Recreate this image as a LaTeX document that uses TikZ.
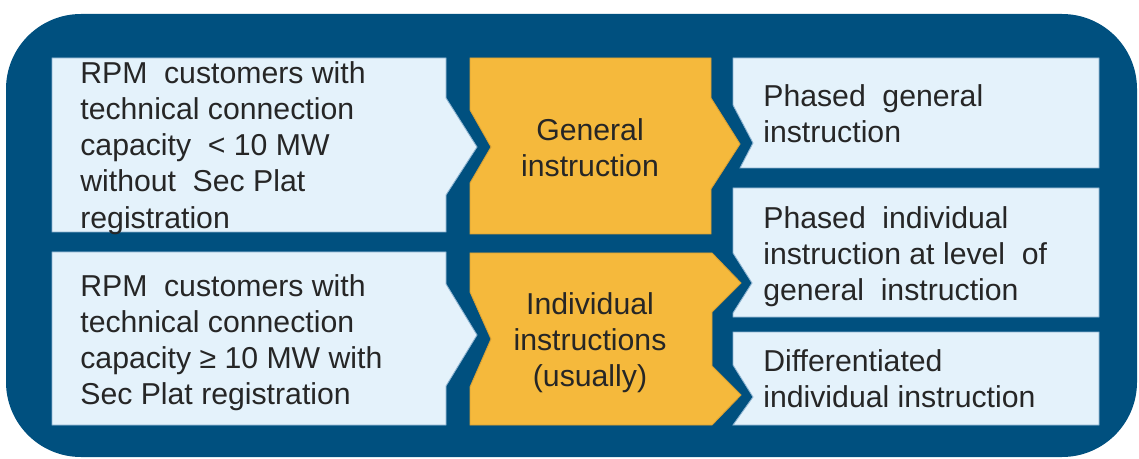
\documentclass[tikz,border=0pt]{standalone}
\usepackage{fontspec}
\setmainfont{Liberation Sans}
\usetikzlibrary{positioning}
\definecolor{fundo}{HTML}{00507F}
\definecolor{claro}{HTML}{E4F2FB}
\definecolor{bordaclara}{HTML}{8DB3D0}
\definecolor{laranja}{HTML}{F5B93C}
\definecolor{bordalaranja}{HTML}{D9A033}
\definecolor{escrita}{HTML}{262626}
% espaco largo entre palavras
\newcommand{\esp}{\hspace{0.55em}}

\begin{document}
\begin{tikzpicture}[
x=0.02cm, y=-0.02cm,
caixa/.style={
fill=claro,
draw=bordaclara,
line width=0.5pt
},
bloco/.style={
fill=laranja,
draw=bordalaranja,
line width=0.5pt
},
rotulo/.style={
text=escrita,
align=left,
inner sep=0pt,
font=\fontsize{17.2}{20.6}\selectfont
},
meio/.style={rotulo, align=center}
]

\useasboundingbox (0,0) rectangle (1139,459);

% moldura azul
\fill[fundo, rounded corners=1.5cm] (6,14) rectangle (1137,457);

% grupos de clientes
\draw[caixa] (52,58) -- (446,58) -- (446,98) -- (477,147) -- (446,195) -- (446,232) -- (52,232) -- cycle;
\draw[caixa] (52,252) -- (446,252) -- (446,284) -- (477,335) -- (446,386) -- (446,425) -- (52,425) -- cycle;

% tipo de instrucao
\draw[bloco] (470,58) -- (711,58) -- (711,98) -- (740,144) -- (711,189) -- (711,234) -- (470,234) -- (470,183) -- (491,147) -- (470,110) -- cycle;
\draw[bloco] (470,253) -- (712,253) -- (741,283) -- (712,312) -- (712,366) -- (741,395) -- (712,425) -- (470,425) -- (470,387) -- (491,339) -- (470,292) -- cycle;

% resultados
\draw[caixa] (733,58) -- (1099,58) -- (1099,168) -- (740,168) -- (753,143) -- (733,105) -- cycle;
\draw[caixa] (733,188) -- (1099,188) -- (1099,317) -- (733,317) -- (733,313) -- (752,283) -- (733,253) -- cycle;
\draw[caixa] (733,332) -- (1099,332) -- (1099,425) -- (733,425) -- (753,397) -- (733,365) -- cycle;

\node[rotulo, anchor=north west] (cli1) at (80,61) {RPM\esp customers with\\technical connection\\capacity\esp < 10 MW\\without\esp Sec Plat\\registration};
\node[rotulo, anchor=north west] (cli2) at (80,274) {RPM\esp customers with\\technical connection\\capacity ≥ 10 MW with\\Sec Plat registration};

\node[meio, anchor=north] (geral) at (590,118) {General\\instruction};
\node[meio, anchor=north] (indiv) at (590,292) {Individual\\instructions\\(usually)};

\node[rotulo, anchor=north west] (fase1) at (763,84) {Phased\esp general\\instruction};
\node[rotulo, anchor=north west] (fase2) at (763,206) {Phased\esp individual\\instruction at level\esp of\\general\esp instruction};
\node[rotulo, anchor=north west] (difer) at (763,349) {Differentiated\\individual instruction};

\end{tikzpicture}
\end{document}
